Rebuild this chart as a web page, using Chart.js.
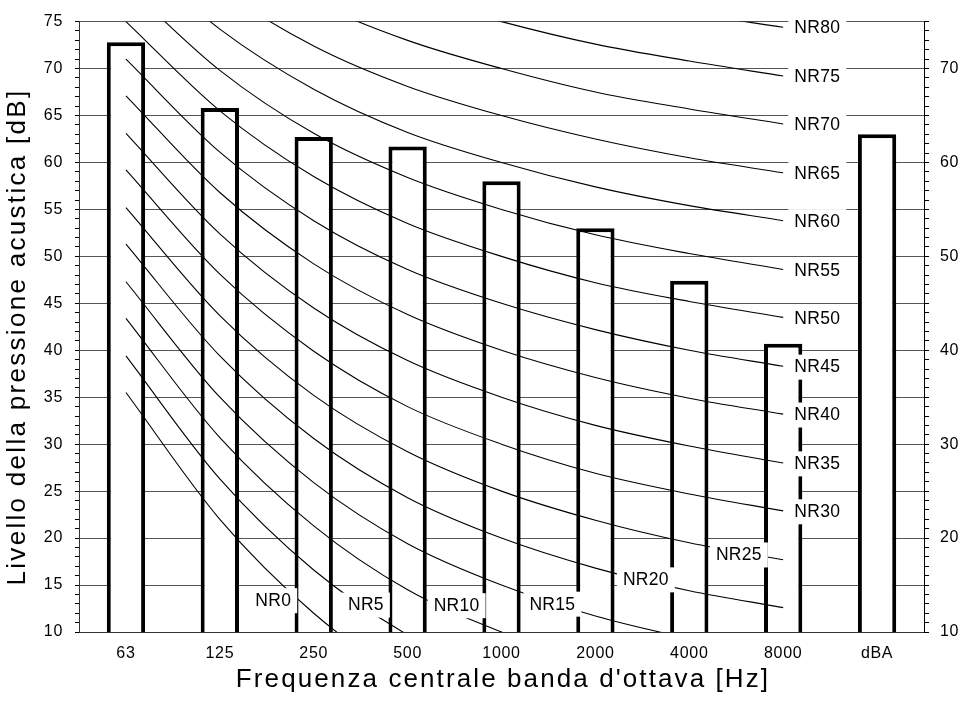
<!DOCTYPE html>
<html>
<head>
<meta charset="utf-8">
<script src="https://cdn.jsdelivr.net/npm/chart.js@4.4.1/dist/chart.umd.min.js"></script>
<style>
  html, body { margin: 0; padding: 0; background: #fff; }
  canvas { display: block; }
</style>
</head>
<body>
<canvas id="chart" width="965" height="702"></canvas>
<script>
// Octave band centre frequencies plus the A-weighted total
const bands = ['63', '125', '250', '500', '1000', '2000', '4000', '8000', 'dBA'];

// Measured sound pressure levels [dB]
const measured = [72.8, 65.8, 62.7, 61.7, 58.0, 53.0, 47.4, 40.7, 63.0];

// Noise Rating curves, levels at 63, 125, 250, 500, 1k, 2k, 4k, 8k Hz
const nr0  = [35.5, 22.0, 12.0,  4.8,  0.0, -3.5, -6.1, -8.0];
const nr5  = [39.4, 26.3, 16.6,  9.7,  5.0,  1.6, -1.0, -2.8];
const nr10 = [43.4, 30.7, 21.3, 14.5, 10.0,  6.6,  4.2,  2.3];
const nr15 = [47.3, 35.0, 25.9, 19.4, 15.0, 11.7,  9.3,  7.4];
const nr20 = [51.3, 39.4, 30.6, 24.3, 20.0, 16.8, 14.4, 12.6];
const nr25 = [55.2, 43.7, 35.2, 29.2, 25.0, 21.9, 19.5, 17.7];
const nr30 = [59.2, 48.1, 39.9, 34.0, 30.0, 26.9, 24.7, 22.9];
const nr35 = [63.1, 52.4, 44.5, 38.9, 35.0, 32.0, 29.8, 28.0];
const nr40 = [67.1, 56.8, 49.2, 43.8, 40.0, 37.1, 34.9, 33.2];
const nr45 = [71.0, 61.1, 53.8, 48.6, 45.0, 42.2, 40.0, 38.3];
const nr50 = [75.0, 65.5, 58.5, 53.5, 50.0, 47.2, 45.2, 43.5];
const nr55 = [78.9, 69.8, 63.1, 58.4, 55.0, 52.3, 50.3, 48.6];
const nr60 = [82.9, 74.2, 67.8, 63.2, 60.0, 57.4, 55.4, 53.8];
const nr65 = [86.8, 78.5, 72.4, 68.1, 65.0, 62.5, 60.5, 58.9];
const nr70 = [90.8, 82.9, 77.1, 73.0, 70.0, 67.5, 65.7, 64.1];
const nr75 = [94.7, 87.2, 81.7, 77.9, 75.0, 72.6, 70.8, 69.2];
const nr80 = [98.7, 91.6, 86.4, 82.7, 80.0, 77.7, 75.9, 74.4];

const nrNumbers = [0, 5, 10, 15, 20, 25, 30, 35, 40, 45, 50, 55, 60, 65, 70, 75, 80];
const nrCurves  = [nr0, nr5, nr10, nr15, nr20, nr25, nr30, nr35, nr40, nr45,
                   nr50, nr55, nr60, nr65, nr70, nr75, nr80];

// Axis tick labels
const leftTickLabels  = [10, 15, 20, 25, 30, 35, 40, 45, 50, 55, 60, 65, 70, 75];
const rightTickLabels = [10, 20, 30, 40, 50, 60, 70];

const yTitle = 'Livello della pressione acustica [dB]';
const xTitle = "Frequenza centrale banda d'ottava [Hz]";

const FONT = "'Liberation Sans', Arial, Helvetica, sans-serif";
Chart.defaults.font.family = FONT;
Chart.defaults.color = '#000';

// Where the low NR labels sit (band index, dB); the others go right of 8 kHz
const lowLabelAnchors = {
  0:  [1.569, 13.28],
  5:  [2.556, 12.81],
  10: [3.522, 12.75],
  15: [4.542, 12.91],
  20: [5.538, 15.50],
  25: [6.528, 18.15]
};

// Boxed NR labels, drawn above bars and curves
const nrLabelPlugin = {
  id: 'nrLabels',
  afterDatasetsDraw(chart) {
    const ctx = chart.ctx;
    const xs = chart.scales.xl;
    const ys = chart.scales.y;
    ctx.save();
    ctx.letterSpacing = '0.3px';
    ctx.font = '17.5px ' + FONT;
    ctx.textAlign = 'center';
    ctx.textBaseline = 'middle';
    nrNumbers.forEach((n, k) => {
      const text = 'NR' + n;
      let ax, ay;
      if (lowLabelAnchors[n]) {
        [ax, ay] = lowLabelAnchors[n];
      } else {
        ax = 7.364;
        ay = nrCurves[k][7] - 0.15;
      }
      const px = xs.getPixelForValue(ax);
      const py = ys.getPixelForValue(ay);
      const w = ctx.measureText(text).width;
      ctx.fillStyle = '#fff';
      ctx.fillRect(px - w / 2 - 6, py - 13, w + 12, 25);
      ctx.fillStyle = '#000';
      ctx.fillText(text, px, py);
    });
    ctx.restore();
  }
};

// Tick label spacing and the two axis titles
const textPlugin = {
  id: 'axisText',
  beforeDraw(chart) {
    chart.ctx.letterSpacing = '0.7px';
  },
  afterDraw(chart) {
    const ctx = chart.ctx;
    ctx.save();
    ctx.fillStyle = '#000';
    ctx.font = '26px ' + FONT;
    ctx.textAlign = 'center';
    ctx.textBaseline = 'middle';

    ctx.letterSpacing = '2.1px';
    ctx.fillText(xTitle, 503, 679.5);

    ctx.letterSpacing = '2.3px';
    ctx.translate(17.5, 337);
    ctx.rotate(-Math.PI / 2);
    ctx.fillText(yTitle, 0, 0);
    ctx.restore();
    ctx.letterSpacing = '0px';
  }
};

const curveDatasets = nrCurves.map((curve, k) => ({
  type: 'line',
  label: 'NR' + nrNumbers[k],
  data: curve.map((v, i) => ({ x: i, y: v })),
  xAxisID: 'xl',
  yAxisID: 'y',
  borderColor: '#000',
  borderWidth: 1.1,
  pointRadius: 0,
  fill: false,
  cubicInterpolationMode: 'monotone',
  order: 0
}));

new Chart(document.getElementById('chart'), {
  type: 'bar',
  data: {
    labels: bands,
    datasets: [
      ...curveDatasets,
      {
        type: 'bar',
        label: 'Livello',
        data: measured,
        xAxisID: 'x',
        yAxisID: 'y',
        backgroundColor: '#fff',
        borderColor: '#000',
        borderWidth: 4,
        borderSkipped: false,
        grouped: false,
        barPercentage: 0.408,
        categoryPercentage: 1,
        order: 1
      }
    ]
  },
  options: {
    responsive: false,
    animation: false,
    devicePixelRatio: 1,
    layout: { padding: { top: 18, left: 0, right: 0, bottom: 0 } },
    plugins: {
      legend: { display: false },
      tooltip: { enabled: false },
      title: { display: false }
    },
    scales: {
      x: {
        type: 'category',
        position: 'bottom',
        offset: true,
        grid: { display: false, drawTicks: false },
        border: { display: true, color: '#333', width: 1 },
        ticks: { padding: 12, font: { size: 16 }, color: '#000', autoSkip: false, maxRotation: 0 },
        afterFit: (s) => { s.height = 70; }
      },
      xl: {
        type: 'linear',
        position: 'bottom',
        display: false,
        offset: false,
        grid: { offset: false },
        min: -0.5,
        max: 8.5
      },
      y: {
        type: 'linear',
        position: 'left',
        min: 10,
        max: 75,
        ticks: {
          stepSize: 1,
          maxTicksLimit: 200,
          autoSkip: false,
          padding: 12,
          font: { size: 16 },
          color: '#000',
          callback: (v) => leftTickLabels.includes(v) ? String(v) : ''
        },
        grid: {
          color: (c) => (c.tick && c.tick.value % 5 === 0) ? '#555' : 'rgba(0,0,0,0)',
          lineWidth: 1,
          tickLength: 4,
          tickColor: '#000',
          tickWidth: 1
        },
        border: { color: '#333', width: 1 },
        afterFit: (s) => { s.width = 79; }
      },
      yr: {
        type: 'linear',
        position: 'right',
        min: 10,
        max: 75,
        ticks: {
          stepSize: 1,
          maxTicksLimit: 200,
          autoSkip: false,
          padding: 11,
          font: { size: 16 },
          color: '#000',
          callback: (v) => rightTickLabels.includes(v) ? String(v) : ''
        },
        grid: { drawOnChartArea: false, tickLength: 5, tickColor: '#000', tickWidth: 1 },
        border: { color: '#000', width: 1 },
        afterFit: (s) => { s.width = 41; }
      }
    }
  },
  plugins: [nrLabelPlugin, textPlugin]
});
</script>
</body>
</html>
